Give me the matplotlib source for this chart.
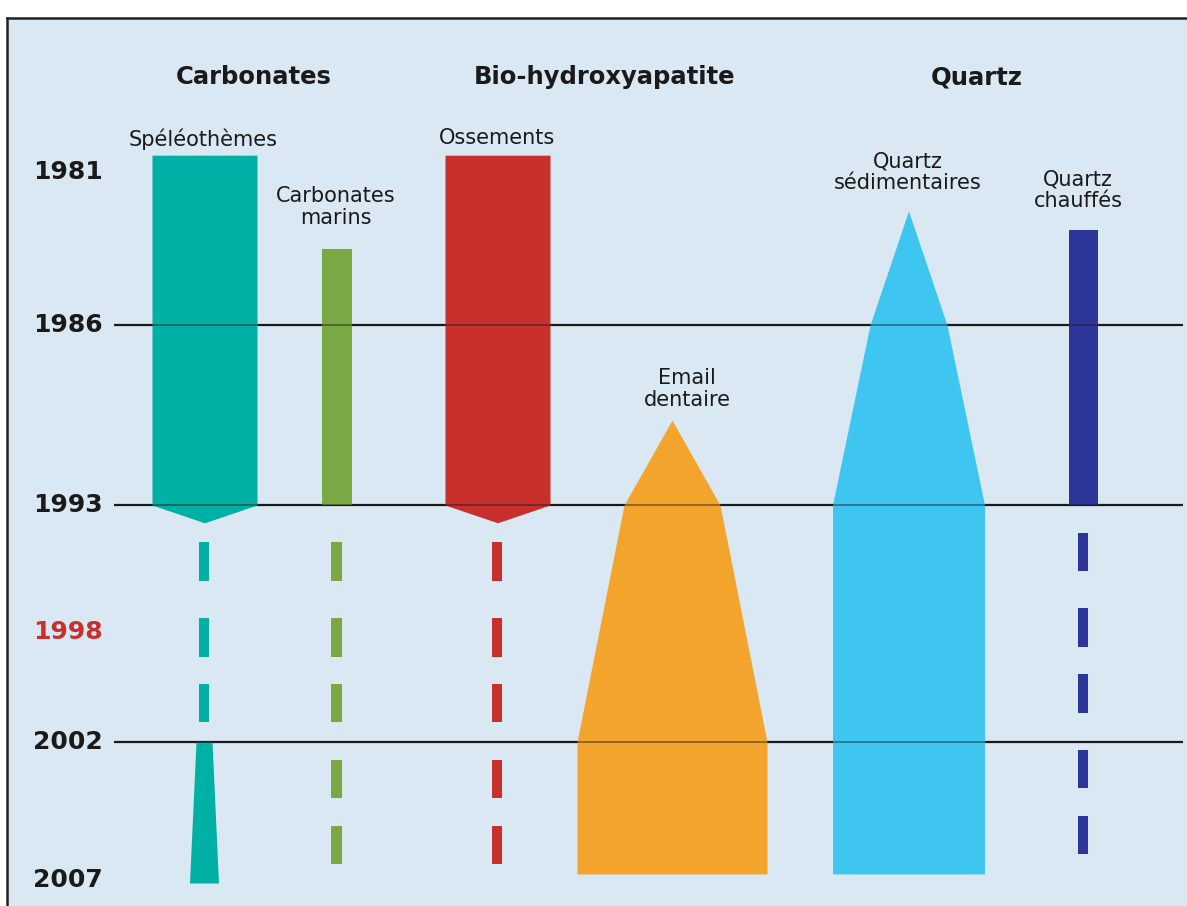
import numpy as np
import matplotlib
import matplotlib.pyplot as plt

matplotlib.use('Agg')

year_ticks = [1981, 1986, 1993, 1998, 2002, 2007]
grid_years = [1986, 1993, 2002]
group_titles = ['Carbonates', 'Bio-hydroxyapatite', 'Quartz']
materials = ['Spéléothèmes', 'Carbonates\nmarins', 'Ossements',
             'Email\ndentaire', 'Quartz\nsédimentaires', 'Quartz\nchauffés']

speleo_years = [1980.45, 1993.0, 1993.7]
speleo_width = [105, 105, 0]
speleo_dashes = [(1994.46, 1995.99), (1997.45, 1998.90), (1999.89, 2001.27)]
speleo_tail_years = [2002.0, 2007.11]
speleo_tail_width = [16, 29]

marins_years = [1983.52, 1993.0]
marins_dashes = [(1994.46, 1995.99), (1997.45, 1998.90), (1999.89, 2001.27),
                 (2002.65, 2004.03), (2005.04, 2006.42)]

os_years = [1980.45, 1993.0, 1993.7]
os_width = [105, 105, 0]
os_dashes = [(1994.46, 1995.99), (1997.45, 1998.90), (1999.89, 2001.27),
             (2002.65, 2004.03), (2005.04, 2006.42)]

email_years = [1989.7, 1993.0, 2002.0, 2006.78]
email_width = [0, 96, 190, 190]

qsed_years = [1982.27, 1986.0, 1993.0, 2006.78]
qsed_width = [0, 77, 152, 152]

qch_years = [1982.9, 1993.0]
qch_dashes = [(1994.10, 1995.60), (1997.06, 1998.55), (1999.53, 2000.95),
              (2002.29, 2003.67), (2004.68, 2006.06)]

# couleurs
teal, green, red = '#00b0a4', '#7aa843', '#c8302e'
orange, sky, navy = '#f2a42c', '#3ec5f0', '#2e3598'
ink = '#1a1a1a'

W, H = 1187, 906
fig = plt.figure(figsize=(W / 100, H / 100), dpi=100)
fig.patch.set_facecolor('white')
ax = fig.add_axes([7 / W, 0, 1 - 7 / W, 1 - 18 / H])
ax.set_facecolor('#d9e8f2')

# échelle des années non linéaire (le schéma n'est pas à l'échelle)
knot_years = [1970, 1981, 1986, 1993, 1998, 2002, 2007, 2020]
knot_px = [172 - 11 * 30.6, 172, 325, 505, 632, 742, 880, 880 + 13 * 27.6]


def fwd(y):
    return np.interp(y, knot_years, knot_px)


def inv(p):
    return np.interp(p, knot_px, knot_years)


ax.set_yscale('function', functions=(fwd, inv))
ax.set_ylim(inv(906), inv(18))
ax.set_xlim(7, W)

for s in ['right', 'bottom']:
    ax.spines[s].set_visible(False)
for s in ['left', 'top']:
    ax.spines[s].set_color('#222222')
    ax.spines[s].set_linewidth(1.8)
ax.set_xticks([])
ax.set_yticks([])

# lignes horizontales
ax.hlines(grid_years, 114, 1183, color=ink, lw=1.6, zorder=1)
ax.hlines(grid_years, 114, 1183, color=ink, lw=1.4, alpha=0.45, zorder=4)


def profile(center, years, widths, color):
    w = np.array(widths) / 2
    ax.fill_betweenx(years, center - w, center + w, color=color, lw=0, zorder=3)


def dashes(center, segs, width, color):
    for a, b in segs:
        ax.bar(center, b - a, bottom=a, width=width, color=color, lw=0, zorder=3)


profile(204.5, speleo_years, speleo_width, teal)
dashes(204, speleo_dashes, 10, teal)
profile(204, speleo_tail_years, speleo_tail_width, teal)

ax.bar(336.5, marins_years[1] - marins_years[0], bottom=marins_years[0],
       width=30, color=green, lw=0, zorder=3)
dashes(336.5, marins_dashes, 11, green)

profile(497.5, os_years, os_width, red)
dashes(497, os_dashes, 10, red)

profile(672, email_years, email_width, orange)
profile(908.5, qsed_years, qsed_width, sky)

ax.bar(1083.5, qch_years[1] - qch_years[0], bottom=qch_years[0],
       width=29, color=navy, lw=0, zorder=3)
dashes(1083, qch_dashes, 10, navy)

# années
for yr in year_ticks:
    ax.text(33, yr, str(yr), ha='left', va='center', fontsize=18,
            fontweight='bold', color=red if yr == 1998 else ink)


def px(x, y):
    return x / W, 1 - y / H


for t, (x, y) in zip(group_titles, [(254, 77), (605, 77), (977, 77)]):
    fig.text(*px(x, y), t, ha='center', va='center', fontsize=17.5,
             fontweight='bold', color=ink)

label_pos = [(203, 139), (336, 207), (497, 138), (687, 389), (908, 172), (1078, 190)]
for t, (x, y) in zip(materials, label_pos):
    fig.text(*px(x, y), t, ha='center', va='center', fontsize=15,
             color=ink, linespacing=1.1)

fig.savefig('out.png', dpi=100)
